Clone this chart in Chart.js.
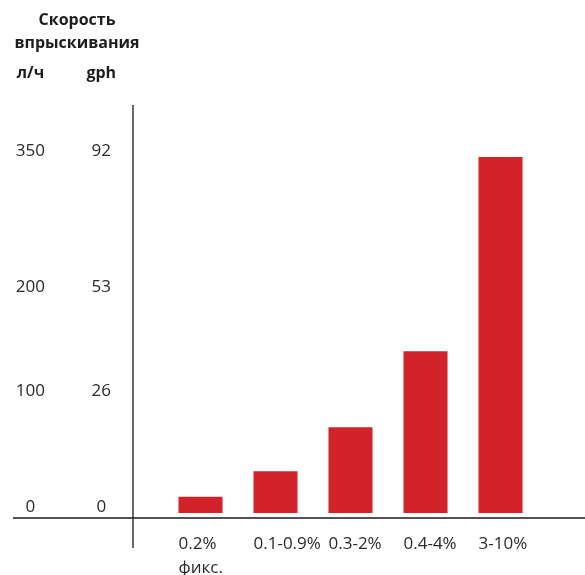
<!DOCTYPE html>
<html>
<head>
<meta charset="utf-8">
<script src="https://cdn.jsdelivr.net/npm/chart.js@4.4.1/dist/chart.umd.min.js"></script>
<style>
html, body { margin: 0; padding: 0; background: #fff; }
#wrap { width: 585px; height: 575px; position: relative; }
</style>
</head>
<body>
<div id="wrap"><canvas id="rateChart"></canvas></div>
<script>
// chart data
const categories = [['0.2%', 'фикс.'], '0.1-0.9%', '0.3-2%', '0.4-4%', '3-10%'];
const injectionLh = [14, 36, 74, 144, 350];   // л/ч
const lhTicks = [0, 100, 200, 350];
const gphTicks = [0, 26, 53, 92];

const titleLines = ['Скорость', 'впрыскивания'];
const unitHeaders = ['л/ч', 'gph'];

const barRed = '#d2232a';
const textGrey = '#2a2a2a';
const fontFamily = "'Open Sans', 'Noto Sans', sans-serif";

// the reference axis is not evenly spaced, so map values piece by piece
class PiecewiseScale extends Chart.LinearScale {
    buildTicks() {
        this.start = this.min;
        this.end = this.max;
        return this.options.tickValues.map(v => ({ value: v }));
    }
    getPixelForValue(value) {
        if (value === null || value === undefined || isNaN(value)) return NaN;
        const k = this.options.knots, p = this.options.knotPos;
        let i = 0;
        while (i < k.length - 2 && value > k[i + 1]) i++;
        const t = (value - k[i]) / (k[i + 1] - k[i]);
        return this.getPixelForDecimal(p[i] + t * (p[i + 1] - p[i]));
    }
    getValueForPixel(pixel) {
        const k = this.options.knots, p = this.options.knotPos;
        const d = this.getDecimalForPixel(pixel);
        let i = 0;
        while (i < p.length - 2 && d > p[i + 1]) i++;
        const t = (d - p[i]) / (p[i + 1] - p[i]);
        return k[i] + t * (k[i + 1] - k[i]);
    }
}
PiecewiseScale.id = 'piecewise';
PiecewiseScale.defaults = {};
Chart.register(PiecewiseScale);

const knots = [-4.3, 0, 100, 200, 350, 407];
const knotPos = [0, 0.012, 0.293, 0.545, 0.874, 1];

// fixed axis box sizes, no extra padding pushed onto the plot area
function fixBox(width, height) {
    return function (scale) {
        if (width !== null) scale.width = width;
        if (height !== null) scale.height = height;
        scale.paddingTop = 0;
        scale.paddingBottom = 0;
        scale.paddingLeft = 0;
        scale.paddingRight = 0;
    };
}

// axis lines, title and unit headers
const decorations = {
    id: 'decorations',
    afterDraw(chart) {
        const { ctx, chartArea } = chart;
        ctx.save();
        ctx.strokeStyle = '#1a1a1a';
        ctx.lineWidth = 1.3;
        ctx.beginPath();
        ctx.moveTo(13, chartArea.bottom);
        ctx.lineTo(chart.width, chartArea.bottom);
        ctx.moveTo(chartArea.left - 30, chartArea.top);
        ctx.lineTo(chartArea.left - 30, chartArea.bottom + 30);
        ctx.stroke();

        ctx.fillStyle = '#1f1c1d';
        ctx.textAlign = 'center';
        ctx.textBaseline = 'alphabetic';
        ctx.font = 'bold 16px ' + fontFamily;
        ctx.fillText(titleLines[0], 77, 25);
        ctx.fillText(titleLines[1], 77, 48);

        ['y', 'gph'].forEach((id, i) => {
            const items = chart.scales[id].getLabelItems();
            const x = items.length ? items[0].options.translation[0] : 0;
            ctx.fillText(unitHeaders[i], x, 78);
        });
        ctx.restore();
    }
};

const ctx = document.getElementById('rateChart').getContext('2d');
const rateChart = new Chart(ctx, {
    type: 'bar',
    data: {
        labels: categories,
        datasets: [{
            label: 'Скорость впрыскивания',
            data: injectionLh,
            backgroundColor: barRed,
            borderWidth: 0,
            barPercentage: 0.587,
            categoryPercentage: 1
        }]
    },
    options: {
        responsive: true,
        maintainAspectRatio: false,
        animation: false,
        layout: { padding: { top: 105, right: 47, left: 0, bottom: 0 } },
        plugins: {
            legend: { display: false },
            tooltip: { enabled: false }
        },
        scales: {
            x: {
                grid: { display: false, drawTicks: false },
                border: { display: false },
                ticks: {
                    color: textGrey,
                    font: { family: fontFamily, size: 17, lineHeight: 1.4 },
                    align: 'start',
                    labelOffset: -22,
                    padding: 14,
                    maxRotation: 0,
                    autoSkip: false
                },
                afterFit: fixBox(null, 57)
            },
            y: {
                type: 'piecewise',
                position: 'left',
                weight: 2,
                min: knots[0],
                max: knots[knots.length - 1],
                knots: knots,
                knotPos: knotPos,
                tickValues: lhTicks,
                grid: { display: false, drawTicks: false },
                border: { display: false },
                ticks: {
                    color: textGrey,
                    font: { family: fontFamily, size: 17 },
                    crossAlign: 'center',
                    padding: 15,
                    labelOffset: -6
                },
                afterFit: fixBox(60, null)
            },
            gph: {
                type: 'piecewise',
                position: 'left',
                weight: 1,
                min: knots[0],
                max: knots[knots.length - 1],
                knots: knots,
                knotPos: knotPos,
                tickValues: lhTicks,
                grid: { display: false, drawTicks: false },
                border: { display: false },
                ticks: {
                    color: textGrey,
                    font: { family: fontFamily, size: 17 },
                    crossAlign: 'center',
                    padding: 52,
                    labelOffset: -6,
                    callback: (value, index) => gphTicks[index]
                },
                afterFit: fixBox(103, null)
            }
        }
    },
    plugins: [decorations]
});
</script>
</body>
</html>
